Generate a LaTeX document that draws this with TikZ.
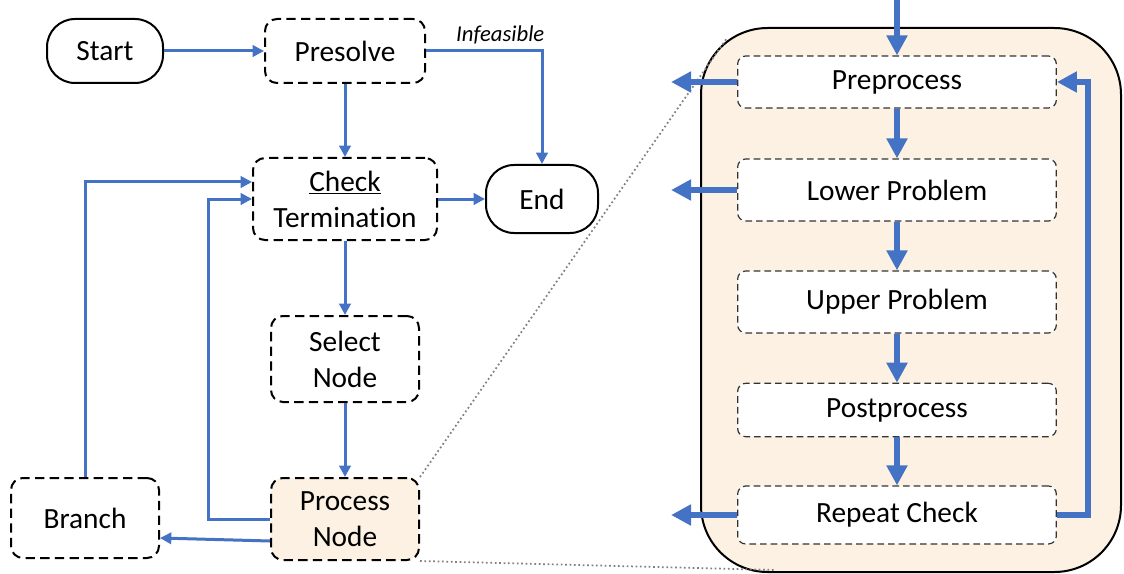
\documentclass[tikz,border=0pt]{standalone}
\usepackage{fontspec}
\setmainfont{Carlito}[Ligatures=NoCommon]
\usetikzlibrary{arrows.meta}

\definecolor{flowblue}{HTML}{4472C4}
\definecolor{panelfill}{HTML}{FCF1E3}

\tikzset{
  flow/.style={draw=flowblue, line width=2.25pt, -{Triangle[length=8.5pt,width=8.5pt]}},
  bigflow/.style={draw=flowblue, line width=4.5pt, -{Triangle[length=15pt,width=15pt]}},
  terminal/.style={draw, line width=1.5pt, rounded corners=21pt, align=center, inner sep=0pt},
  stepbox/.style={draw, line width=1.5pt, dash pattern=on 7pt off 4pt, rounded corners=9pt, align=center, inner sep=0pt},
  substep/.style={draw=black!80, line width=0.9pt, dash pattern=on 5pt off 3pt, rounded corners=6pt, fill=white, minimum width=239pt, inner sep=0pt},
  zoomline/.style={draw=gray, line width=1.3pt, dotted}
}

\begin{document}
\begin{tikzpicture}[x=0.75pt, y=-0.75pt, font=\fontsize{22}{27}\selectfont]
    \useasboundingbox (0,0) rectangle (1124,574);

    % Draw main loop nodes
    \node[terminal, minimum width=87pt, minimum height=48pt] (start) at (105,51) {Start};
    \node[stepbox, minimum width=120pt, minimum height=48pt] (presolve) at (345,51) {Presolve};
    \node[stepbox, minimum width=138pt, minimum height=61.5pt] (check) at (345,199) {\underline{Check}\\Termination};
    \node[terminal, minimum width=84pt, minimum height=51pt] (end) at (542,199) {End};
    \node[stepbox, minimum width=111pt, minimum height=64.5pt] (select) at (345,359) {Select\\Node};
    \node[stepbox, fill=panelfill, minimum width=111pt, minimum height=61.5pt] (process) at (345,519) {Process\\Node}; % expanded on the right
    \node[stepbox, minimum width=111pt, minimum height=60pt] (branch) at (85,518) {Branch};

    % Draw main loop edges
    \draw[flow] (start) -- (presolve);
    \draw[flow] (presolve.east) -| node[pos=0.32, above=1pt, font=\fontsize{17}{20}\selectfont\itshape] {Infeasible} (end.north);
    \draw[flow] (presolve) -- (check);
    \draw[flow] (check) -- (end);
    \draw[flow] (check) -- (select);
    \draw[flow] (select) -- (process);
    \draw[flow] ([yshift=-16.5pt]process.west) -- ([yshift=-15pt]branch.east);
    \draw[flow] (process.west) -- ++(-62,0) |- (check.west);
    \draw[flow] (branch.north) |- ([yshift=12.75pt]check.west);

    % Draw the expanded process node
    \node[draw, line width=1.5pt, fill=panelfill, rounded corners=50pt, minimum width=315pt, minimum height=408pt] (panel) at (911,300) {};
    \coordinate (zoomtop) at (727,38);
    \coordinate (zoombot) at (775,570);
    \draw[zoomline] (process.north east) -- (zoomtop);
    \draw[zoomline] (process.south east) -- (zoombot);

    \node[substep, minimum height=39pt] (pre) at (897,82) {Preprocess};
    \node[substep, minimum height=46.5pt] (lower) at (897,190) {Lower Problem};
    \node[substep, minimum height=46.5pt] (upper) at (897,302) {Upper Problem};
    \node[substep, minimum height=40pt] (post) at (897,410) {Postprocess};
    \node[substep, minimum height=43.5pt] (repeat) at (897,515) {Repeat Check};

    % Draw process steps edges
    \coordinate (entry) at (897,0);
    \draw[bigflow] (entry) -- (pre);
    \draw[bigflow] (pre) -- (lower);
    \draw[bigflow] (lower) -- (upper);
    \draw[bigflow] (upper) -- (post);
    \draw[bigflow] (post) -- (repeat);
    \foreach \n in {pre,lower,repeat} {
        \coordinate (\n-out) at ([xshift=-49.5pt]\n.west);
        \draw[bigflow] (\n.west) -- (\n-out);
    }
    \draw[bigflow] (repeat.east) -- ++(31,0) |- (pre.east); % repeat loop
\end{tikzpicture}
\end{document}
